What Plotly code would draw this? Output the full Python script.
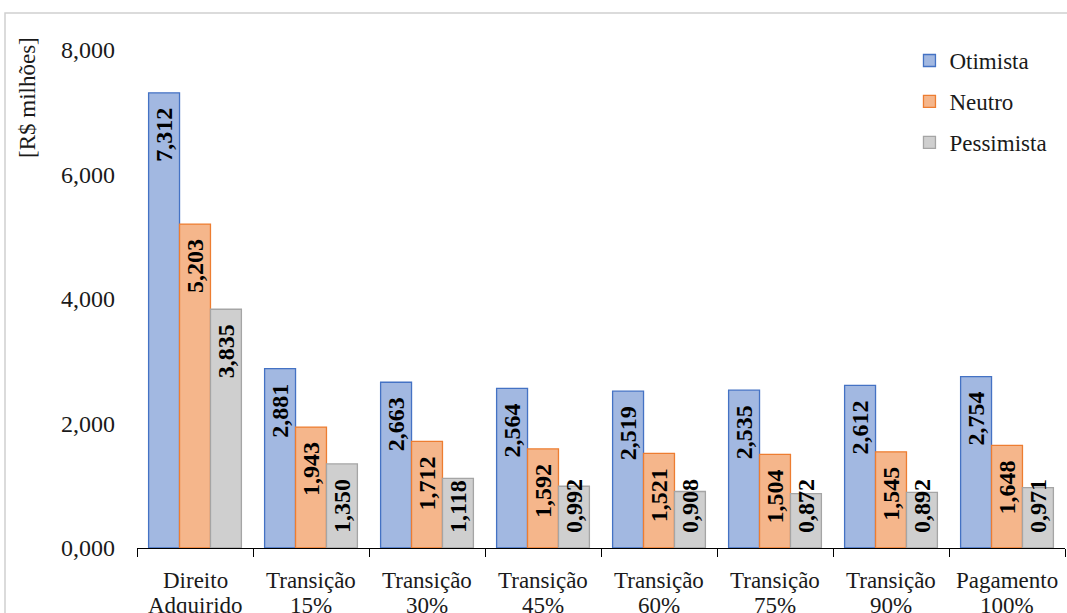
import plotly.graph_objects as go

categorias = ["Direito<br>Adquirido", "Transição<br>15%", "Transição<br>30%", "Transição<br>45%",
              "Transição<br>60%", "Transição<br>75%", "Transição<br>90%", "Pagamento<br>100%"]
otimista = [7.312, 2.881, 2.663, 2.564, 2.519, 2.535, 2.612, 2.754]
neutro = [5.203, 1.943, 1.712, 1.592, 1.521, 1.504, 1.545, 1.648]
pessimista = [3.835, 1.350, 1.118, 0.992, 0.908, 0.872, 0.892, 0.971]
y_ticks = [0, 2, 4, 6, 8]

FONT = "'Liberation Serif', 'Times New Roman', serif"
TXT = "#1a1a1a"
FS = 23
NBSP = "\u00a0"
# below this value the rotated label no longer fits under the bar top,
# so it is set against the base of the bar instead
LIMIAR = 1.2


def fmt(v):
    return f"{v:.3f}".replace(".", ",")


series = [
    ("Otimista", otimista, "#A2B8E1", "#4472C4"),
    ("Neutro", neutro, "#F5B68B", "#ED7D31"),
    ("Pessimista", pessimista, "#CFCFCF", "#A5A5A5"),
]

label_font = dict(family=FONT, size=24, color="black", weight="bold")

fig = go.Figure()
for nome, valores, cor, borda in series:
    fig.add_trace(go.Bar(
        name=nome, x=categorias, y=valores, offsetgroup=nome,
        marker=dict(color=cor, line=dict(color=borda, width=1.3)),
        text=[fmt(v) + NBSP * 2 if v >= LIMIAR else "" for v in valores],
        textposition="inside", insidetextanchor="end",
        textangle=-90, constraintext="none", textfont=label_font,
        legendgroup=nome, hoverinfo="skip",
    ))
    # labels of the short bars, anchored at the bar base
    fig.add_trace(go.Bar(
        name=nome, x=categorias, y=valores, offsetgroup=nome,
        marker=dict(color="rgba(0,0,0,0)", line=dict(width=0)),
        text=[NBSP * 2 + fmt(v) if v < LIMIAR else "" for v in valores],
        textposition="inside", insidetextanchor="start",
        textangle=-90, constraintext="none", textfont=label_font,
        legendgroup=nome, showlegend=False, hoverinfo="skip",
    ))

fig.update_layout(
    width=1067, height=613,
    margin=dict(l=137, r=2, t=50, b=65),
    paper_bgcolor="white", plot_bgcolor="white",
    separators=",.",
    barmode="group", bargap=0.2, bargroupgap=0,
    font=dict(family=FONT, size=FS, color=TXT),
    legend=dict(x=0.8324, y=1.022, xanchor="left", yanchor="top",
                font=dict(family=FONT, size=FS, color=TXT),
                tracegroupgap=8, traceorder="grouped",
                bgcolor="rgba(0,0,0,0)", itemwidth=30),
    showlegend=True,
)

fig.update_xaxes(
    showline=True, linecolor="black", linewidth=1,
    ticks="outside", tickson="boundaries", ticklen=8, tickcolor="black",
    showticklabels=False, showgrid=False,
)
fig.update_yaxes(
    range=[0, 8], tickvals=y_ticks, tickformat=".3f",
    showline=False, showgrid=False, zeroline=False,
    tickfont=dict(family=FONT, size=24, color=TXT),
    ticklabelstandoff=21,
)

# two-line category labels under the axis
for cat in categorias:
    linha1, linha2 = cat.split("<br>")
    fig.add_annotation(x=cat, xref="x", y=0, yref="paper", yanchor="middle",
                       yshift=-32, text=linha1, showarrow=False,
                       font=dict(family=FONT, size=FS, color=TXT))
    fig.add_annotation(x=cat, xref="x", y=0, yref="paper", yanchor="middle",
                       yshift=-57, text=linha2, showarrow=False,
                       font=dict(family=FONT, size=FS, color=TXT))

# axis title near the top of the value axis
fig.add_annotation(x=-109/928, xref="paper", y=450/498, yref="paper",
                   xanchor="center", yanchor="middle", textangle=-90,
                   text="[R$ milhões]", showarrow=False,
                   font=dict(family=FONT, size=FS, color=TXT))

# chart frame
fig.add_shape(type="rect", xref="paper", yref="paper",
              x0=-132/928, x1=1.1, y0=-0.3, y1=1 + 37/498,
              line=dict(color="#D0D0D0", width=1.5), layer="below")

fig.write_html("out.html")
